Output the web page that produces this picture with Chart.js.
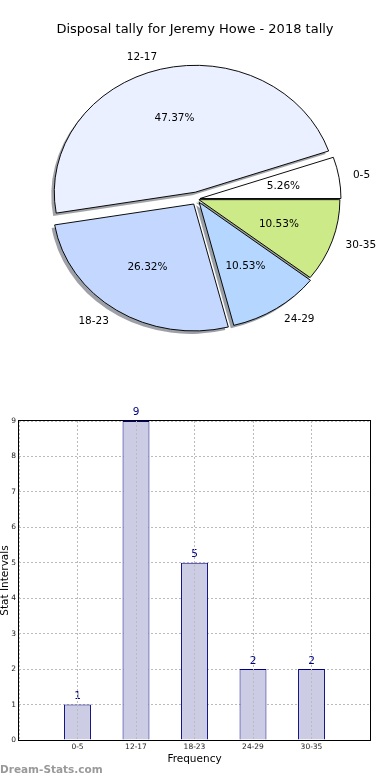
<!DOCTYPE html>
<html>
<head>
<meta charset="utf-8">
<script src="https://cdn.jsdelivr.net/npm/chart.js@4.4.0/dist/chart.umd.min.js"></script>
<style>
  html, body { margin: 0; padding: 0; background: #fff; }
  canvas { display: block; }
</style>
</head>
<body>
<canvas id="pie" width="390" height="390"></canvas>
<canvas id="bars" width="390" height="390"></canvas>
<script>
// chart data
const chartTitle = 'Disposal tally for Jeremy Howe - 2018 tally';
const intervals = ['0-5', '12-17', '18-23', '24-29', '30-35'];
const counts = [1, 9, 5, 2, 2];
const sliceColors = ['#ffffff', '#eaf0ff', '#c4d8ff', '#b4d6ff', '#ccea88'];

const FONT = 'DejaVu Sans';
const SQUASH = 0.9; // the source pie is a bit wider than tall

// matplotlib draws counter-clockwise from 3 o'clock, chart.js clockwise -> reverse
const rev = a => a.slice().reverse();
const total = counts.reduce((s, v) => s + v, 0);

function squash(ctx, cx, cy) {
  ctx.translate(cx, cy);
  ctx.scale(1, SQUASH);
  ctx.translate(-cx, -cy);
}

function shade(hex) {
  const n = parseInt(hex.slice(1), 16);
  const r = (n >> 16) & 255, g = (n >> 8) & 255, b = n & 255;
  return `rgba(${Math.round(r * 0.3)},${Math.round(g * 0.3)},${Math.round(b * 0.3)},0.5)`;
}

const pieDecor = {
  id: 'pieDecor',
  afterDatasetUpdate(chart, args, opts) {
    args.meta.data.forEach((arc, i) => {
      const m = (arc.startAngle + arc.endAngle) / 2;
      const d = opts.explode[i];
      arc.x += Math.cos(m) * d;
      arc.y += Math.sin(m) * d / SQUASH;
    });
  },
  beforeDatasetsDraw(chart, args, opts) {
    const { ctx, chartArea: a } = chart;
    const cx = (a.left + a.right) / 2, cy = (a.top + a.bottom) / 2;
    const arcs = chart.getDatasetMeta(0).data;
    // shadows under all wedges
    ctx.save();
    ctx.translate(-opts.shadow, opts.shadow);
    squash(ctx, cx, cy);
    arcs.forEach(arc => {
      ctx.beginPath();
      ctx.moveTo(arc.x, arc.y);
      ctx.arc(arc.x, arc.y, arc.outerRadius, arc.startAngle, arc.endAngle);
      ctx.closePath();
      ctx.fillStyle = shade(arc.options.backgroundColor);
      ctx.fill();
    });
    ctx.restore();
    ctx.save();
    squash(ctx, cx, cy);
  },
  afterDatasetsDraw(chart) {
    const { ctx, chartArea: a } = chart;
    ctx.restore();
    const cy = (a.top + a.bottom) / 2;
    const labels = chart.data.labels;
    const values = chart.data.datasets[0].data;
    ctx.save();
    ctx.fillStyle = '#000';
    ctx.font = `10.5px "${FONT}"`;
    ctx.textBaseline = 'middle';
    chart.getDatasetMeta(0).data.forEach((arc, i) => {
      const m = (arc.startAngle + arc.endAngle) / 2;
      const x0 = arc.x, y0 = cy + (arc.y - cy) * SQUASH;
      const rx = arc.outerRadius, ry = arc.outerRadius * SQUASH;
      const c = Math.cos(m), s = Math.sin(m);
      ctx.textAlign = c > 0 ? 'left' : 'right';
      ctx.fillText(labels[i], x0 + 1.1 * rx * c, y0 + 1.1 * ry * s);
      ctx.textAlign = 'center';
      ctx.fillText((values[i] / total * 100).toFixed(2) + '%', x0 + 0.6 * rx * c, y0 + 0.6 * ry * s);
    });
    ctx.font = `13px "${FONT}"`;
    ctx.textAlign = 'center';
    ctx.fillText(chartTitle, 195, 30);
    ctx.restore();
  }
};

new Chart(document.getElementById('pie'), {
  type: 'pie',
  data: {
    labels: rev(intervals),
    datasets: [{
      data: rev(counts),
      backgroundColor: rev(sliceColors),
      borderColor: '#000',
      borderWidth: 1,
      radius: 141
    }]
  },
  options: {
    responsive: false,
    animation: false,
    events: [],
    rotation: 90,
    layout: { padding: { left: 4, right: 0, top: 8, bottom: 0 } },
    plugins: {
      legend: { display: false },
      tooltip: { enabled: false },
      pieDecor: { explode: rev([3, 7, 6, 4, 2]), shadow: 3 }
    }
  },
  plugins: [pieDecor]
});

// bar chart
const barDecor = {
  id: 'barDecor',
  afterDatasetsDraw(chart) {
    const ctx = chart.ctx;
    ctx.save();
    ctx.fillStyle = '#000080';
    ctx.font = `10.5px "${FONT}"`;
    ctx.textAlign = 'center';
    ctx.textBaseline = 'bottom';
    chart.getDatasetMeta(0).data.forEach((bar, i) => {
      ctx.fillText(String(counts[i]), bar.x, bar.y - 3);
    });
    ctx.restore();
  },
  afterDraw(chart) {
    const { ctx, chartArea: a } = chart;
    ctx.save();
    // full box round the plot, like matplotlib
    ctx.strokeStyle = '#000';
    ctx.lineWidth = 1;
    ctx.strokeRect(Math.round(a.left) - 0.5, Math.round(a.top) - 0.5,
      Math.round(a.right - a.left) + 1, Math.round(a.bottom - a.top) + 1);
    ctx.fillStyle = '#999';
    ctx.font = `bold 10.5px "${FONT}"`;
    ctx.textAlign = 'left';
    ctx.textBaseline = 'middle';
    ctx.fillText('Dream-Stats.com', 0, 380);
    ctx.restore();
  }
};

const tickFont = { family: FONT, size: 7.5 };
const titleFont = { family: FONT, size: 10.5, lineHeight: 1 };

new Chart(document.getElementById('bars'), {
  type: 'bar',
  data: {
    datasets: [{
      data: counts.map((v, i) => ({ x: i + 1, y: v })),
      backgroundColor: '#ccccE4',
      borderColor: '#000080',
      borderWidth: 1,
      barPercentage: 0.46,
      categoryPercentage: 1
    }]
  },
  options: {
    responsive: false,
    animation: false,
    events: [],
    layout: { padding: { left: 0, right: 20, top: 31, bottom: 0 } },
    plugins: { legend: { display: false }, tooltip: { enabled: false } },
    scales: {
      x: {
        type: 'linear',
        min: 0,
        max: 6,
        offset: false,
        ticks: {
          stepSize: 1,
          autoSkip: false,
          maxRotation: 0,
          padding: 3,
          font: tickFont,
          color: '#222',
          callback: v => intervals[v - 1] || ''
        },
        grid: { offset: false, color: '#bbb', drawTicks: false, z: 1 },
        border: { display: false, dash: [2, 2] },
        title: { display: true, text: 'Frequency', font: titleFont, color: '#000', padding: { top: 0, bottom: 15 } },
        afterFit: s => { s.height = 40; }
      },
      y: {
        min: 0,
        max: 9,
        ticks: { stepSize: 1, padding: 3, font: tickFont, color: '#222' },
        grid: { color: '#bbb', drawTicks: false },
        border: { display: false, dash: [2, 2] },
        title: { display: true, text: 'Stat Intervals', font: titleFont, color: '#000', padding: { top: 0, bottom: 0 } },
        afterFit: s => { s.width = 19; }
      }
    }
  },
  plugins: [barDecor]
});
</script>
</body>
</html>
